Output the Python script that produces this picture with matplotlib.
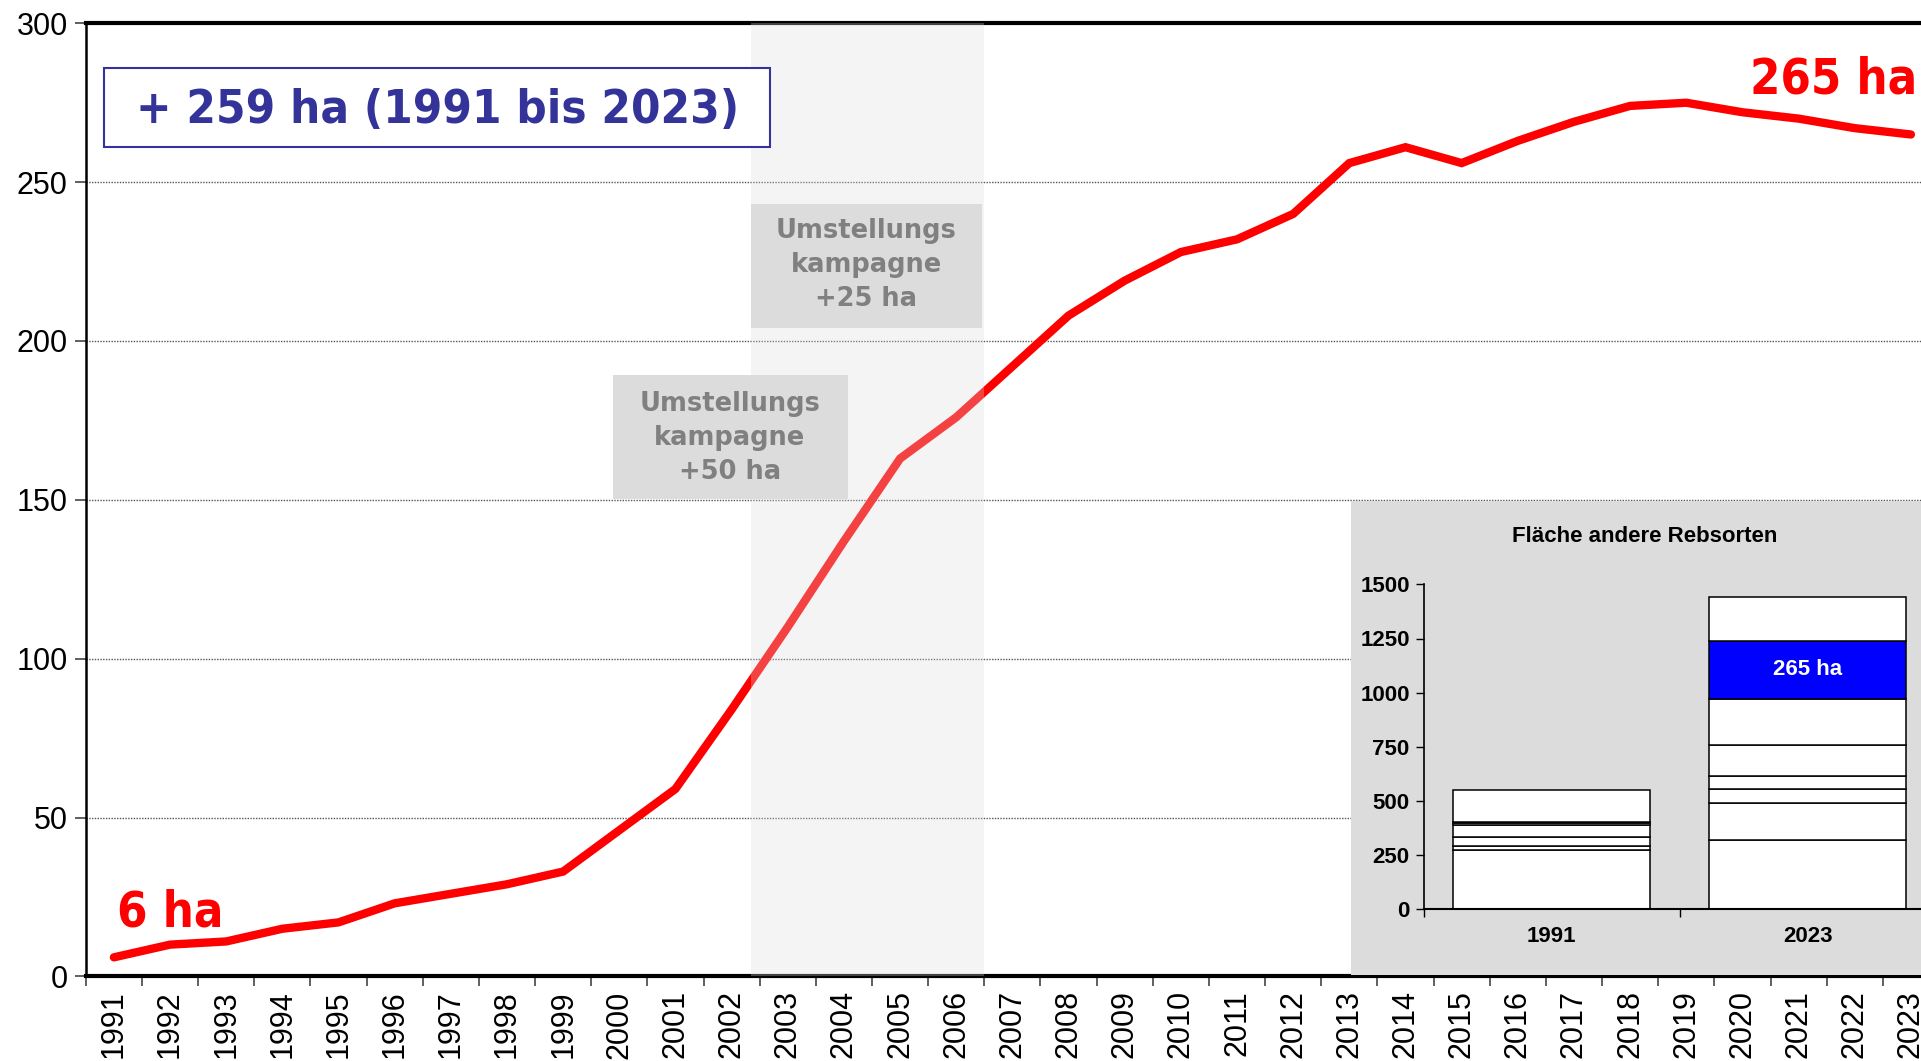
import matplotlib.pyplot as plt
from matplotlib.patches import Rectangle

# Rebfläche (ha) 1991-2023
years = list(range(1991, 2024))
area = [6, 10, 11, 15, 17, 23, 26, 29, 33, 46, 59, 84, 110, 137, 163, 176,
        192, 208, 219, 228, 232, 240, 256, 261, 256, 263, 269, 274, 275,
        272, 270, 267, 265]

# Fläche andere Rebsorten, gestapelte Segmente (ha)
inset_years = ['1991', '2023']
seg_1991 = [271, 18, 46, 51, 12, 6, 148]
seg_2023 = [317, 172, 66, 59, 144, 214, 265, 206]
blue_1991 = 5
blue_2023 = 6

W, H = 1921, 1061
fig = plt.figure(figsize=(W / 100, H / 100), dpi=100)
plt.rcParams['font.family'] = ['Liberation Sans', 'DejaVu Sans']
cond = dict(family='DejaVu Sans', fontstretch='condensed', fontweight='bold')

x = list(range(len(years)))
ax = fig.add_axes([85.8 / W, 1 - 976.4 / H, (1939 - 85.8) / W, (976.4 - 23.3) / H])
ax.set_xlim(-0.5, len(years) - 0.5)
ax.set_ylim(0, 300)

ax.plot(x, area, color='#ff0000', lw=6, solid_capstyle='round',
        solid_joinstyle='miter', zorder=3)

# Kampagnen-Zeitraum
ax.axvspan(11.35, 15.5, color='#dcdcdc', alpha=0.3, lw=0, zorder=4)

ax.set_yticks(range(0, 301, 50))
ax.set_xticks(x)
ax.set_xticklabels([str(y) for y in years], rotation=90)
ax.set_xticks([i - 0.5 for i in range(len(years) + 1)], minor=True)
ax.tick_params(axis='x', which='major', length=0, labelsize=22, pad=10)
ax.tick_params(axis='x', which='minor', length=7, width=1.2, color='#444444')
ax.tick_params(axis='y', labelsize=22, length=8, width=1.2, color='#444444', pad=5)
ax.yaxis.grid(True, color='#555555', ls=(0, (1, 1)), lw=1)
ax.set_axisbelow(True)
ax.spines['left'].set_linewidth(1.8)
for s in ['top', 'bottom']:
    ax.spines[s].set_linewidth(3)
ax.spines['right'].set_visible(False)

ax.text(0.05, 12.5, '6 ha', color='#ff0000', fontsize=35, ha='left',
        va='bottom', zorder=6, **cond)
ax.text(32.11, 274.6, '265 ha', color='#ff0000', fontsize=35, ha='right',
        va='bottom', zorder=6, **cond)

ax.add_patch(Rectangle((-0.17, 261.2), 11.86, 24.6, fc='white', ec='#333399',
                       lw=1.5, zorder=6))
ax.text(5.76, 272.7, '+ 259 ha (1991 bis 2023)', color='#333399', fontsize=34,
        ha='center', va='center', zorder=7, **cond)

# Hinweisboxen Umstellungskampagnen
ax.add_patch(Rectangle((8.88, 150.4), 4.19, 38.8, fc='#dcdcdc', ec='none', zorder=6))
ax.add_patch(Rectangle((11.35, 204.2), 4.10, 38.9, fc='#dcdcdc', ec='none', zorder=6))
ax.text(10.97, 169.6, 'Umstellungs\nkampagne\n+50 ha', color='#808080', fontsize=18.5,
        fontweight='bold', family='DejaVu Sans', ha='center', va='center',
        linespacing=1.4, zorder=7)
ax.text(13.40, 223.8, 'Umstellungs\nkampagne\n+25 ha', color='#808080', fontsize=18.5,
        fontweight='bold', family='DejaVu Sans', ha='center', va='center',
        linespacing=1.4, zorder=7)

# grauer Hintergrund für die Nebengrafik
fig.patches.append(Rectangle((1351 / W, 1 - 975 / H), (W - 1351) / W, (975 - 500.5) / H,
                             transform=fig.transFigure, fc='#dcdcdc', ec='none', zorder=5))
fig.text(1645 / W, 1 - 537 / H, 'Fläche andere Rebsorten', fontsize=16,
         fontweight='bold', ha='center', va='center', zorder=11)

ins = fig.add_axes([1423.6 / W, 1 - 909 / H, (1935.7 - 1423.6) / W, (909 - 584.4) / H])
ins.set_zorder(10)
ins.patch.set_visible(False)
ins.set_xlim(-0.5, 1.5)
ins.set_ylim(0, 1500)

for xi, segs, blue_idx in [(0, seg_1991, blue_1991), (1, seg_2023, blue_2023)]:
    bottom = 0
    for k, v in enumerate(segs):
        ins.bar(xi, v, bottom=bottom, width=0.77,
                color='#0000ff' if k == blue_idx else 'white',
                edgecolor='black', lw=1.1)
        bottom += v
b = sum(seg_2023[:blue_2023])
ins.text(1, b + seg_2023[blue_2023] / 2, '265 ha', color='white', fontsize=16,
         fontweight='bold', ha='center', va='center')

ins.set_yticks(range(0, 1501, 250))
ins.set_xticks([0, 1])
ins.set_xticklabels(inset_years)
ins.set_xticks([-0.5, 0.5], minor=True)
ins.tick_params(axis='x', which='major', length=0, labelsize=16, pad=12)
ins.tick_params(axis='x', which='minor', length=6, width=1)
ins.tick_params(axis='y', labelsize=16, length=6, width=1, pad=4)
for lab in ins.get_xticklabels() + ins.get_yticklabels():
    lab.set_fontweight('bold')
ins.spines['top'].set_visible(False)
ins.spines['right'].set_visible(False)
ins.spines['left'].set_linewidth(1.2)
ins.spines['bottom'].set_linewidth(1.5)

fig.savefig('out.png', dpi=100)
